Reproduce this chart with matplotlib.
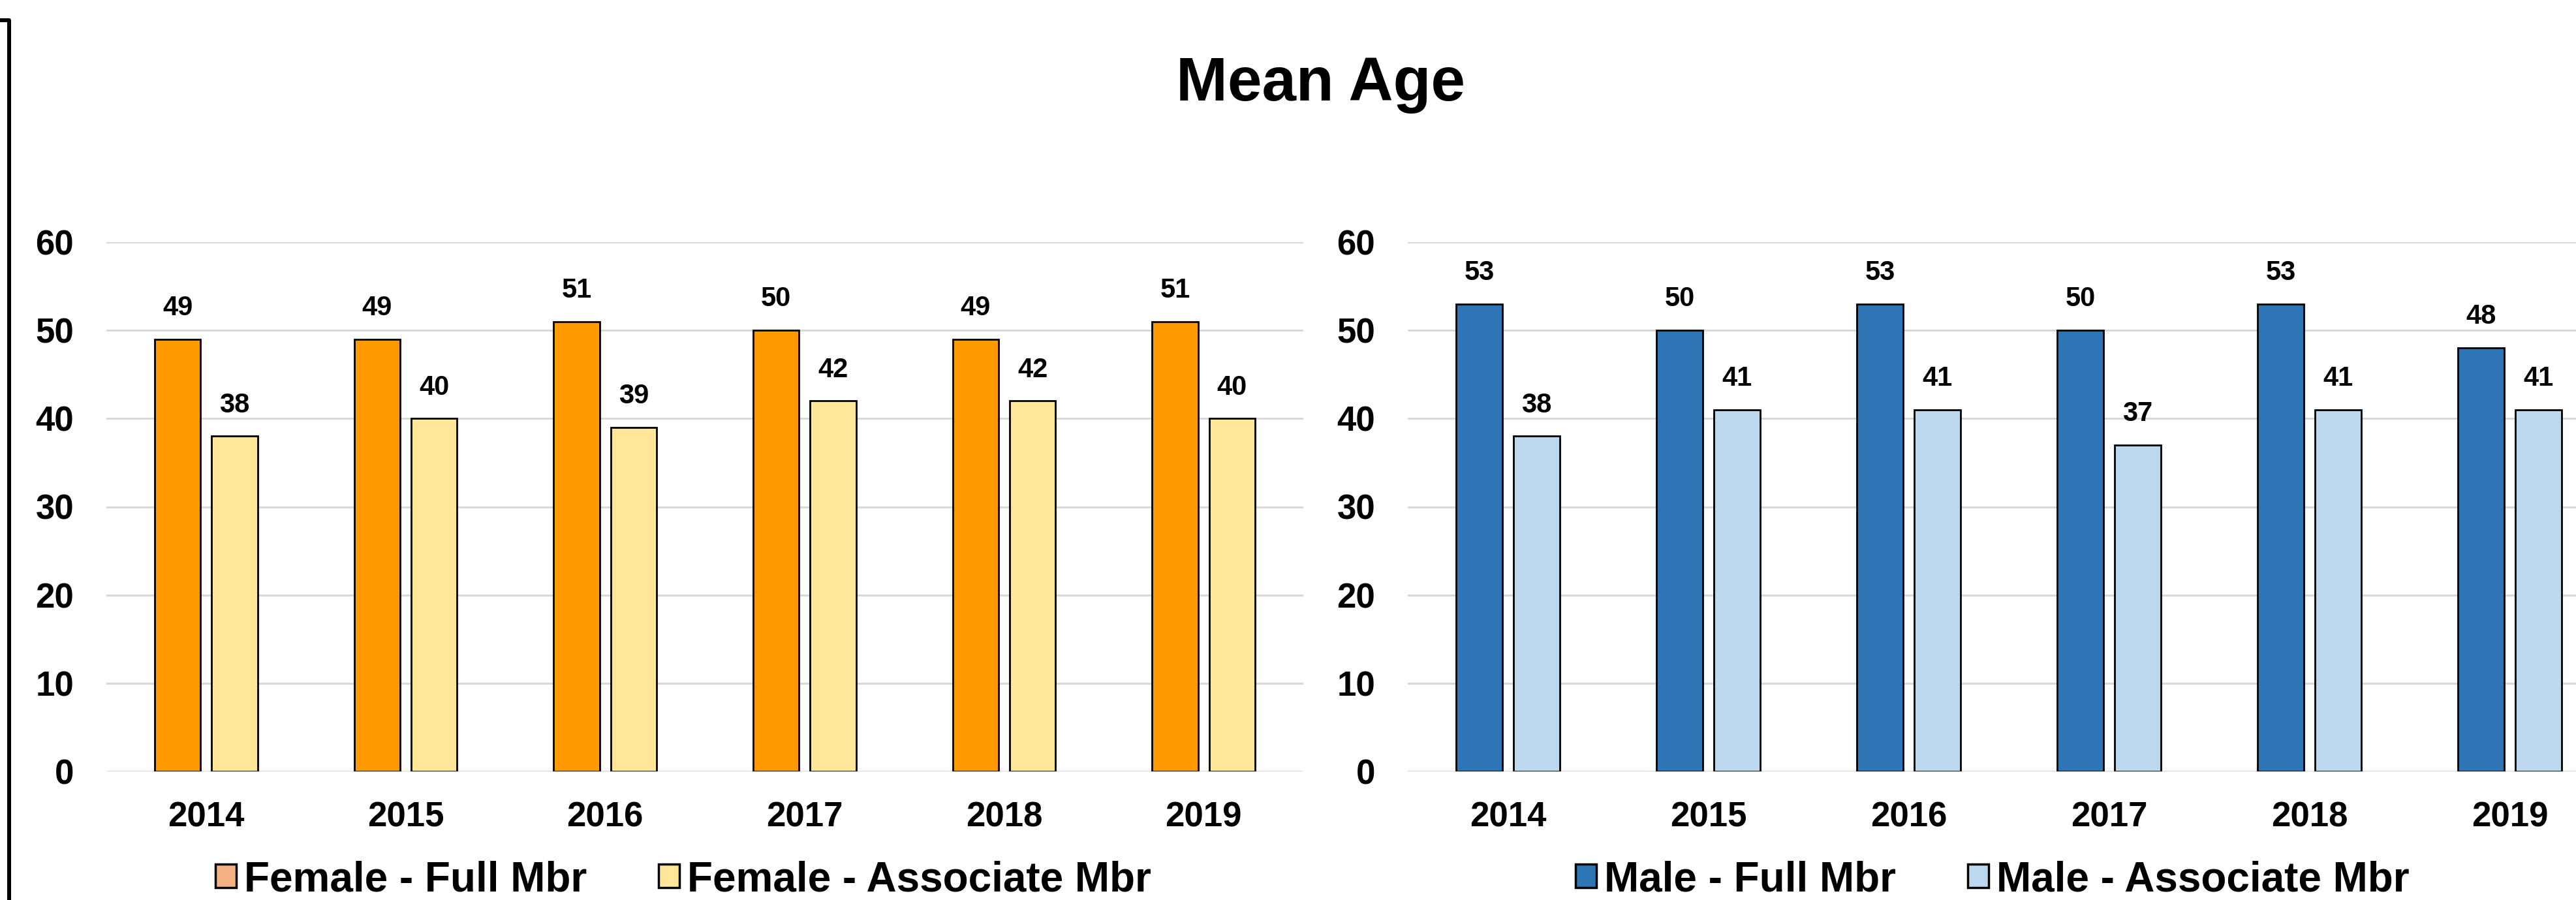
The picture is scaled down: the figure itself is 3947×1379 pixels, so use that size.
import numpy as np
from matplotlib import pyplot as plt
from matplotlib.lines import Line2D
from matplotlib.patches import Patch

years = ['2014', '2015', '2016', '2017', '2018', '2019']
female_full = [49, 49, 51, 50, 49, 51]
female_assoc = [38, 40, 39, 42, 42, 40]
male_full = [53, 50, 53, 50, 53, 48]
male_assoc = [38, 41, 41, 37, 41, 41]

W, H = 3947, 1379


def plot_params():
    plt.rc('font', family='Liberation Sans', weight='bold')
    plt.rc('axes', edgecolor='none')


plot_params()


def draw_panel(ax, full, assoc, c_full, c_assoc):
    x = np.arange(len(years))
    bw = 0.23
    off = 0.143
    b1 = ax.bar(x - off, full, bw, color=c_full, edgecolor='black', linewidth=2, zorder=3)
    b2 = ax.bar(x + off, assoc, bw, color=c_assoc, edgecolor='black', linewidth=2, zorder=3)
    ax.bar_label(b1, padding=20, fontsize=30, fontweight='bold')
    ax.bar_label(b2, padding=20, fontsize=30, fontweight='bold')
    ax.set_xlim(-0.5, len(years) - 0.5)
    ax.set_ylim(0, 60)
    ax.set_yticks(range(0, 61, 10))
    ax.set_xticks(x)
    ax.set_xticklabels(years)
    ax.tick_params(axis='both', length=0, labelsize=38)
    ax.tick_params(axis='y', pad=36)
    ax.tick_params(axis='x', pad=33)
    ax.yaxis.grid(True, color='#D9D9D9', linewidth=2.2, zorder=0)
    ax.set_axisbelow(True)
    for s in ax.spines.values():
        s.set_visible(False)


fig = plt.figure(figsize=(W / 100, H / 100), dpi=100)

ax_bottom = 1 - 1182 / H
ax_height = (1182 - 371) / H
ax1 = fig.add_axes([163 / W, ax_bottom, 1834 / W, ax_height])
ax2 = fig.add_axes([2157 / W, ax_bottom, 1842 / W, ax_height])

draw_panel(ax1, female_full, female_assoc, '#FF9900', '#FFE699')
draw_panel(ax2, male_full, male_assoc, '#2E75B6', '#BDD7EE')

fig.text(2023 / W, 1 - 154 / H, 'Mean Age', ha='center', va='baseline',
         fontsize=68, fontweight='bold')

# legends (the first patch colour differs from the bars, as in the source)
leg_kw = dict(loc='upper left', ncol=2, frameon=False, fontsize=46,
              handlelength=0.5, handleheight=0.48, handletextpad=0.19,
              columnspacing=1.72, borderpad=0, borderaxespad=0)
h1 = [Patch(facecolor='#F4B183', edgecolor='black', linewidth=2.5),
      Patch(facecolor='#FFE699', edgecolor='black', linewidth=2.5)]
fig.legend(h1, ['Female - Full Mbr', 'Female - Associate Mbr'],
           bbox_to_anchor=(330 / W, 1 - 1318 / H), **leg_kw)
h2 = [Patch(facecolor='#2E75B6', edgecolor='black', linewidth=2.5),
      Patch(facecolor='#BDD7EE', edgecolor='black', linewidth=2.5)]
fig.legend(h2, ['Male - Full Mbr', 'Male - Associate Mbr'],
           bbox_to_anchor=(2414 / W, 1 - 1318 / H), **leg_kw)

# frame edge at the far left
fig.add_artist(Line2D([0, 14 / W, 14 / W], [1 - 31 / H, 1 - 31 / H, 0],
                      transform=fig.transFigure, color='black', linewidth=4.3))

plt.savefig('out.png', dpi=100)
